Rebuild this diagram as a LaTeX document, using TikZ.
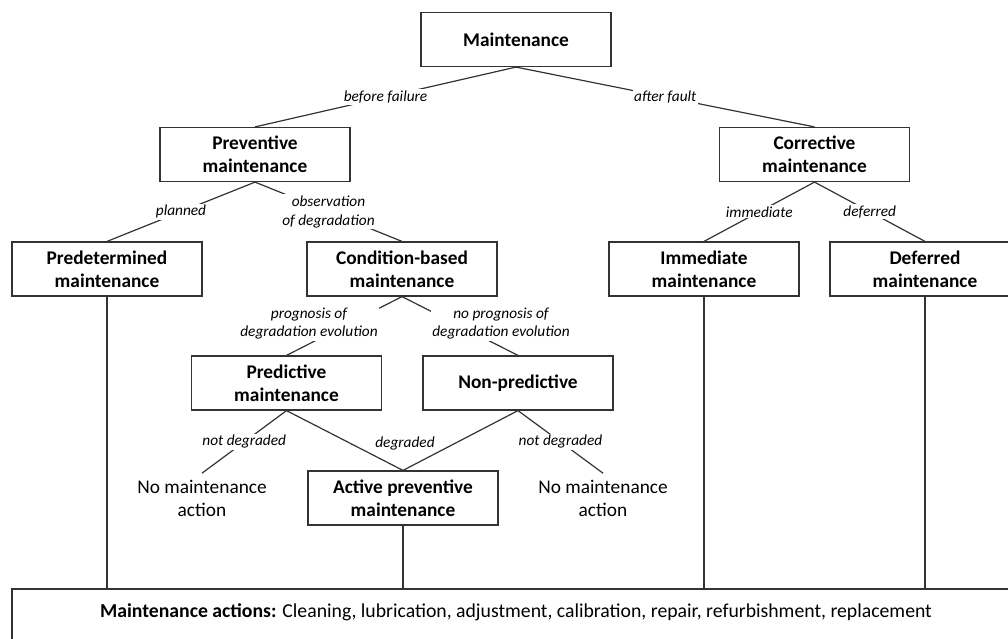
\documentclass[tikz,border=0pt]{standalone}
\usepackage{fontspec}
\setmainfont{Carlito}
\begin{document}
\begin{tikzpicture}[x=0.75pt,y=-0.75pt,
  box/.style={draw=black!80, line width=0.9pt, fill=white, minimum width=142.5pt,
    minimum height=40.5pt, align=center, inner sep=0pt,
    font=\fontsize{14.5}{17.5}\selectfont\bfseries},
  lbl/.style={fill=white, inner sep=1pt, align=center,
    font=\fontsize{11.5}{14}\selectfont\itshape},
  plain/.style={align=center, inner sep=5pt, font=\fontsize{14.5}{17.5}\selectfont},
  link/.style={draw=black!80, line width=0.9pt}]
\useasboundingbox (0,0) rectangle (1008,639);
\clip (0,0) rectangle (1008,639);

% top level
\node[box] (maint) at (516,39.5) {Maintenance};
\node[box] (prev) at (255,154.5) {Preventive\\maintenance};
\node[box] (corr) at (814.5,154.5) {Corrective\\maintenance};

% second level
\node[box] (predet) at (107,269) {Predetermined\\maintenance};
\node[box] (cond) at (402,269) {Condition-based\\maintenance};
\node[box] (immed) at (704,269) {Immediate\\maintenance};
\node[box] (defer) at (925,269) {Deferred\\maintenance};

% condition-based branch
\node[box] (pred) at (286.5,383) {Predictive\\maintenance};
\node[box] (nonpred) at (518,383) {Non-predictive};
\node[box] (active) at (403,498) {Active preventive\\maintenance};
\node[plain] (nomaintL) at (202,498.5) {No maintenance\\action};
\node[plain] (nomaintR) at (603,498.5) {No maintenance\\action};

% common actions box
\node[draw=black!80, line width=0.9pt, minimum width=756pt, minimum height=53.25pt,
  inner sep=0pt] (actions) at (516,624.5) {};
\node[font=\fontsize{14.8}{17.5}\selectfont] (actionstext) at (516,612.5)
  {\textbf{Maintenance actions:} Cleaning, lubrication, adjustment, calibration, repair, refurbishment, replacement};

% connectors with labels
\draw[link] (maint.south) -- node[lbl] {before failure} (prev.north);
\draw[link] (maint.south) -- node[lbl] {after fault} (corr.north);
\draw[link] (prev.south) -- node[lbl] {planned} (predet.north);
\draw[link] (prev.south) -- node[lbl] {observation\\of degradation} (cond.north);
\draw[link] (corr.south) -- node[lbl] {immediate} (immed.north);
\draw[link] (corr.south) -- node[lbl] {deferred} (defer.north);

\draw[link] (cond.south) -- (pred.north);
\draw[link] (cond.south) -- (nonpred.north);
\node[lbl] (lblprog) at (309,323.5) {prognosis of\\degradation evolution};
\node[lbl] (lblnoprog) at (501,323.5) {no prognosis of\\degradation evolution};

\draw[link] (pred.south) -- node[lbl] {not degraded} (nomaintL.north);
\draw[link] (pred.south) -- (active.north);
\draw[link] (nonpred.south) -- (active.north);
\draw[link] (nonpred.south) -- node[lbl] {not degraded} (nomaintR.north);
\node[lbl] (lbldeg) at (405,443) {degraded};

% vertical feeds into the actions box
\draw[link] (predet.south) -- (predet.south |- actions.north);
\draw[link] (active.south) -- (active.south |- actions.north);
\draw[link] (immed.south) -- (immed.south |- actions.north);
\draw[link] (defer.south) -- (defer.south |- actions.north);
\end{tikzpicture}
\end{document}
